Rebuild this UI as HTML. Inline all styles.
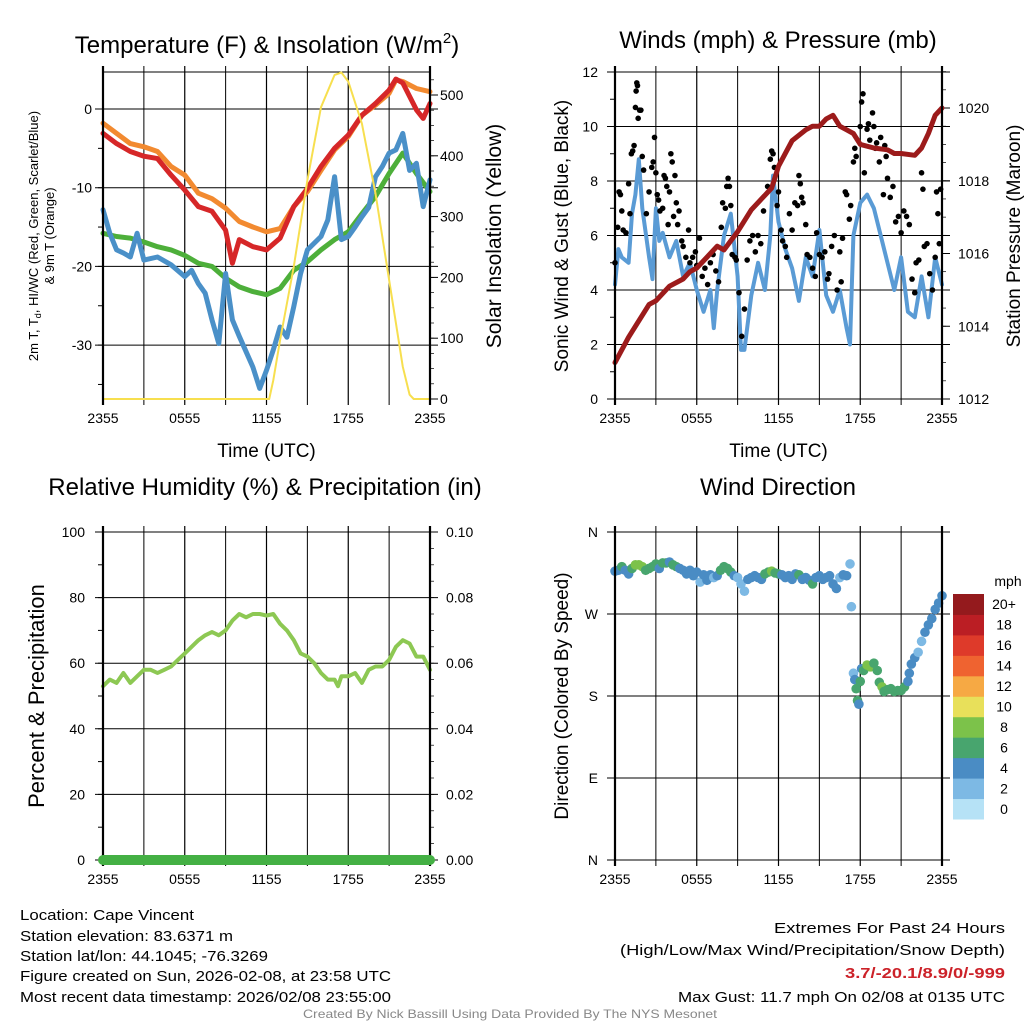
<!DOCTYPE html>
<html><head><meta charset="utf-8"><style>
html,body{margin:0;padding:0;background:#fff;}
svg{display:block;font-family:"Liberation Sans",sans-serif;}
</style></head><body>
<svg id="s" width="1024" height="1024" viewBox="0 0 1024 1024" xmlns="http://www.w3.org/2000/svg">
<rect width="1024" height="1024" fill="#fff"/>
<g id="g1"></g>
<g id="g2"></g>
<g id="g3"></g>
<g id="g4"></g>
<g font-size="15" fill="#000">
<text x="20" y="920" textLength="174" lengthAdjust="spacingAndGlyphs">Location: Cape Vincent</text>
<text x="20" y="941" textLength="213" lengthAdjust="spacingAndGlyphs">Station elevation: 83.6371 m</text>
<text x="20" y="961" textLength="248" lengthAdjust="spacingAndGlyphs">Station lat/lon: 44.1045; -76.3269</text>
<text x="20" y="981" textLength="371" lengthAdjust="spacingAndGlyphs">Figure created on Sun, 2026-02-08, at 23:58 UTC</text>
<text x="20" y="1002" textLength="371" lengthAdjust="spacingAndGlyphs">Most recent data timestamp: 2026/02/08 23:55:00</text>
</g>
<g font-size="15" fill="#000">
<text x="1005" y="933" text-anchor="end" textLength="231" lengthAdjust="spacingAndGlyphs">Extremes For Past 24 Hours</text>
<text x="1005" y="955" text-anchor="end" textLength="385" lengthAdjust="spacingAndGlyphs">(High/Low/Max Wind/Precipitation/Snow Depth)</text>
<text x="1005" y="978" text-anchor="end" textLength="160" lengthAdjust="spacingAndGlyphs" fill="#cc2229" font-weight="bold">3.7/-20.1/8.9/0/-999</text>
<text x="1005" y="1002" text-anchor="end" textLength="327" lengthAdjust="spacingAndGlyphs">Max Gust: 11.7 mph On 02/08 at 0135 UTC</text>
</g>
<text x="510" y="1018" text-anchor="middle" font-size="12" fill="#888" textLength="414" lengthAdjust="spacingAndGlyphs">Created By Nick Bassill Using Data Provided By The NYS Mesonet</text>
</svg>
<script>
// ---------- DATA ----------
const xTickLabels = ["2355","0555","1155","1755","2355"];
const tempTicks = [0,-10,-20,-30];
const solarTicks = [0,100,200,300,400,500];
const windTicks = [0,2,4,6,8,10,12];
const presTicks = [1012,1014,1016,1018,1020];
const rhTicks = [0,20,40,60,80,100];
const precipTicks = ["0.00","0.02","0.04","0.06","0.08","0.10"];
const dirTickLabels = ["N","E","S","W","N"];
const speedBinLabels = ["0","2","4","6","8","10","12","14","16","18","20+"];

const redT = [-3.1,-4.4,-5.4,-6,-6.3,-8.4,-10.3,-12.4,-13,-15.4,-19.6,-16.6,-17.5,-17.9,-16.4,-12.4,-10.1,-7.3,-5,-3.3,-0.8,0.7,2.4,3.8,3.3,-0.1,-1.2,0.7];
const redH = [0,1,2,3,4,5,6,7,8,9,9.5,10,11,12,13,14,15,16,17,18,19,20,21,21.5,22,23,23.5,24];
const orangeT = [-1.8,-3.1,-4.4,-4.8,-5.4,-7.3,-8.4,-10.7,-11.4,-12.6,-14.3,-15,-15.6,-15.2,-12.4,-10.5,-7.8,-5.2,-3.5,-0.8,0.5,2,3.7,3.5,2.6,2.2];
const orangeH = [0,1,2,3,4,5,6,7,8,9,10,11,12,13,14,15,16,17,18,19,20,21,21.5,22,23,24];
const greenT = [-15.8,-16.2,-16.4,-16.9,-17.5,-17.9,-18.6,-19.6,-20,-21.5,-22.6,-23.2,-23.6,-22.8,-20.5,-19.4,-17.9,-16.6,-15.6,-13.3,-11.1,-8.2,-5.6,-8.2,-10.5];
const greenH = [0,1,2,3,4,5,6,7,8,9,10,11,12,13,14,15,16,17,18,19,20,21,22,23,24];
const blueT = [-12.8,-15.8,-17.9,-18.3,-18.8,-15.8,-19.2,-18.8,-19.8,-21.3,-20.5,-22.2,-23.4,-26.8,-29.8,-20.9,-26.8,-28.9,-32.8,-35.5,-33.2,-30.6,-27.7,-29,-25.1,-20.9,-17.9,-16.2,-14.1,-8.6,-16.6,-16.2,-15,-13.7,-12.5,-8.6,-7.3,-5.6,-5.2,-3.1,-7.8,-6.9,-12.4,-9];
const blueH = [0,0.5,1,1.5,2,2.5,3,4,5,6,6.5,7,7.5,8,8.5,9,9.5,10,11,11.5,12,12.5,13,13.5,14,14.5,15,16,16.5,17,17.5,18,18.5,19,19.5,20,20.5,21,21.5,22,22.5,23,23.5,24];
const solarV = [0,0,0,31,97,218,360,480,533,537,522,453,338,196,53,7,0,0];
const solarH = [0,11.9,12.2,12.5,13,14,15,16,17,17.5,18,19,20,21,22,22.5,22.8,24];

const windV = [4.2,5.5,5.2,5.0,6.8,7.5,8.8,7.0,5.2,4.4,7.0,5.8,6.1,5.2,5.8,4.5,5.0,4.0,3.2,4.0,2.6,4.0,6.0,6.8,4.5,1.8,1.8,3.8,5.0,4.0,6.0,8.2,6.5,5.5,4.8,3.6,5.2,4.5,6.2,3.8,3.2,4.0,2.6,2.0,6.0,7.2,7.5,7.0,6.0,5.0,4.0,5.2,3.2,3.0,4.5,3.0,5.2,4.2];
const windH = [0,0.25,0.5,1,1.25,1.5,1.75,2,2.5,2.75,3,3.25,3.5,4,4.5,5,5.5,6,6.5,7,7.25,7.5,8,8.5,9,9.25,9.5,10,10.5,11,11.4,11.6,12,12.5,13,13.5,14,14.5,15,15.5,16,16.5,17,17.25,17.5,18,18.5,19,19.5,20,20.5,21,21.5,22,22.5,23,23.5,24];
const gustH = [0,0.2,0.3,0.4,0.5,0.6,0.8,1.0,1.1,1.2,1.3,1.4,1.5,1.55,1.6,1.65,1.7,1.8,1.9,2.0,2.1,2.3,2.5,2.7,2.8,2.9,3.0,3.1,3.2,3.3,3.5,3.6,3.7,3.8,3.9,4.0,4.1,4.2,4.3,4.4,4.5,4.6,4.7,4.9,5.0,5.2,5.4,5.5,5.7,5.9,6.0,6.2,6.4,6.6,6.8,7.0,7.2,7.4,7.6,7.8,7.9,8.1,8.2,8.3,8.4,8.5,8.6,8.8,8.9,9.1,9.3,9.5,9.7,9.9,10.1,10.3,10.5,10.7,10.9,11.2,11.4,11.5,11.6,11.7,11.9,12.0,12.2,12.3,12.5,12.6,12.8,13.0,13.2,13.4,13.5,13.6,13.7,13.8,14.0,14.1,14.3,14.5,14.7,14.8,15.0,15.2,15.4,15.6,15.7,15.9,16.1,16.3,16.5,16.6,16.7,16.9,17.0,17.2,17.3,17.5,17.6,17.7,18.0,18.1,18.2,18.3,18.5,18.6,18.7,18.9,19.0,19.1,19.2,19.4,19.5,19.7,19.8,19.9,20.0,20.2,20.4,20.6,20.8,21.0,21.2,21.4,21.6,21.8,22.0,22.1,22.3,22.5,22.6,22.7,22.9,23.1,23.3,23.5,23.6,23.7,23.8,23.9];
const gustV = [5.0,6.3,7.6,7.5,6.9,6.2,6.1,7.9,6.8,9.0,9.1,9.3,10.7,11.3,11.6,11.5,10.3,10.6,10.6,8.9,8.4,6.8,7.6,8.5,8.7,9.6,8.3,7.5,7.3,6.9,7.0,8.2,8.1,7.8,6.4,7.6,9.0,8.7,6.7,8.2,7.2,6.4,6.9,5.8,5.6,5.2,6.2,5.0,5.2,5.4,4.9,5.9,4.5,4.8,4.2,5.0,5.3,4.7,4.3,6.3,7.2,7.0,7.8,8.1,7.8,7.1,5.3,5.2,5.1,3.9,2.3,3.3,5.1,5.8,6.0,5.4,6.0,5.7,6.9,7.8,8.8,9.1,9.0,8.5,7.1,7.6,6.2,5.8,5.6,5.2,6.8,6.2,7.2,7.1,8.2,7.9,7.4,7.2,6.4,5.3,5.2,4.8,4.5,6.1,5.3,5.2,5.4,4.4,4.6,5.6,6.0,4.0,5.4,4.3,5.9,7.6,7.5,6.6,7.1,8.7,9.2,8.9,10.0,10.9,11.2,8.3,9.9,10.1,9.5,10.5,10.0,9.2,9.4,8.7,9.6,7.5,9.3,8.9,8.1,7.4,7.8,6.5,6.7,6.1,6.9,6.7,6.4,4.4,3.9,5.0,5.1,8.3,7.7,5.6,5.7,4.6,4.0,5.2,7.6,6.8,5.7,7.7];
const presV = [1013.0,1013.7,1014.0,1014.3,1014.6,1014.7,1015.1,1015.3,1015.5,1015.6,1016.0,1016.2,1016.1,1016.6,1017.2,1017.6,1017.8,1018.4,1019.1,1019.4,1019.5,1019.5,1019.7,1019.8,1019.5,1019.4,1019.3,1019.0,1018.9,1018.85,1018.75,1018.75,1018.7,1018.9,1019.3,1019.8,1020.0];
const presH = [0,1,1.5,2,2.5,3,4,5,5.5,6,7,7.5,8,9,10,11,11.5,12,13,14,14.5,15,15.5,16,16.5,17,17.5,18,19,20,20.5,21,22,22.5,23,23.5,24];

const rhV = [53,55,54,57,54,56,58,58,57,58,59,61,63,65,67,68.5,69.5,68.5,70,73,75,74,75,75,74.5,75,72,70,67,63,62,60,57,55,55,53,56,56,57,54,58,59,59,61,65,67,66,62,62,58];
const rhH = [0,0.5,1,1.5,2,2.5,3,3.5,4,4.5,5,5.5,6,6.5,7,7.5,8,8.5,9,9.5,10,10.5,11,11.5,12,12.5,13,13.5,14,14.5,15,15.5,16,16.5,17,17.25,17.5,18,18.5,19,19.5,20,20.5,21,21.5,22,22.5,23,23.5,24];
const precipV = [0,0];
const precipH = [0,24];

const dirH = [0,.25,.5,.75,1,1.25,1.5,1.75,2,2.25,2.5,2.75,3,3.25,3.5,3.75,4,4.25,4.5,4.75,5,5.25,5.5,5.75,6,6.25,6.5,6.75,7,7.25,7.5,7.75,8,8.25,8.5,8.75,9,9.25,9.5,9.75,10,10.25,10.5,10.75,11,11.25,11.5,11.75,12,12.25,12.5,12.75,13,13.25,13.5,13.75,14,14.25,14.5,14.75,15,15.25,15.5,15.75,16,16.25,16.5,16.75,17,17.25,17.35,17.5,17.6,17.7,17.8,17.9,18,18.1,18.25,18.5,18.75,19,19.25,19.4,19.6,19.75,20,20.25,20.5,20.75,21,21.25,21.5,21.6,21.75,22,22.25,22.5,22.75,23,23.25,23.5,23.75,24];
const dirV = [317,318,322,318,314,320,324,324,322,318,320,322,325,320,326,326,327,324,322,320,318,314,318,312,316,305,313,307,313,310,312,318,322,320,316,312,310,303,295,308,310,312,310,308,314,316,317,315,314,313,310,312,308,314,313,308,310,307,303,310,312,308,310,312,303,298,310,313,312,325,278,205,198,188,175,171,196,210,208,214,212,216,208,195,190,185,187,188,185,186,186,190,196,205,215,222,228,240,250,258,265,275,282,290];
const dirSpd = [4,4,6,5,5,6,8,8,8,6,6,6,6,4,6,6,4,6,6,4,4,4,4,4,4,2,4,4,4,2,4,6,6,6,6,4,2,2,2,4,4,4,4,4,6,6,8,6,6,4,4,4,4,4,6,4,4,4,6,4,4,4,4,4,4,4,2,4,4,2,2,2,4,6,6,4,6,4,6,8,8,6,6,6,8,6,6,6,6,6,6,6,4,4,4,4,2,2,4,4,4,4,4,4];
const binColors = ["#b6e2f6","#7db9e4","#4a8cc4","#48a56e","#7cc24a","#e8e05a","#f6a944","#ef6330","#de3a2a","#bb1e24","#941a1d"];

// ---------- HELPERS ----------
const NS="http://www.w3.org/2000/svg";
function mk(parent,tag,attrs,txt){const e=document.createElementNS(NS,tag);for(const k in attrs)e.setAttribute(k,attrs[k]);if(txt!==undefined)e.textContent=txt;parent.appendChild(e);return e;}
function xs(x0,x1){return h=>x0+h/24*(x1-x0);}
function lin(d0,d1,r0,r1){return v=>r0+(v-d0)/(d1-d0)*(r1-r0);}
function pathD(H,V,fx,fy){return H.map((h,i)=>(i?"L":"M")+fx(h).toFixed(1)+","+fy(V[i]).toFixed(1)).join("");}

function frame(g,x0,x1,y0,y1,xlab){
  const fx=xs(x0,x1);
  for(let h=0;h<=24;h+=3){
    const l=mk(g,'line',{x1:fx(h),x2:fx(h),y1:y0-6,y2:y1+6,stroke:'#000','stroke-width':(h%6==0)?1.2:1});
    
    
  }
  xTickLabels.forEach((t,i)=>{
    const e=mk(g,'text',{x:fx(i*6),y:y1+24,'text-anchor':'middle','font-size':14},t);
    
    
  });
  if(xlab){const e=mk(g,'text',{x:(x0+x1)/2,y:y1+58,'text-anchor':'middle','font-size':19},'Time (UTC)');
    
    }
  return fx;
}
function hgrid(g,x0,x1,y){
  const l=mk(g,'line',{x1:x0-8,x2:x1+8,y1:y,y2:y,stroke:'#000','stroke-width':1});
  
  
}
function label(g,x,y,t,anchor,size,name){
  const e=mk(g,'text',{x:x,y:y+5,'text-anchor':anchor,'font-size':size||14},t);
  
  
  return e;
}
function vtitle(g,x,y,t,size,name){
  const e=mk(g,'text',{x:0,y:0,transform:`translate(${x},${y}) rotate(-90)`,'text-anchor':'middle','font-size':size},t);
  
  
  return e;
}
function series(g,H,V,fx,fy,color,w,name){
  const p=mk(g,'path',{d:pathD(H,V,fx,fy),fill:'none',stroke:color,'stroke-width':w,'stroke-linejoin':'round','stroke-linecap':'round'});
  
  
  return p;
}
function sides(g,x0,x1,y0,y1){
  mk(g,'line',{x1:x0,x2:x0,y1:y0-6,y2:y1+6,stroke:'#000','stroke-width':2.2});
  mk(g,'line',{x1:x1,x2:x1,y1:y0-6,y2:y1+6,stroke:'#000','stroke-width':2.2});
}

// ---------- PANEL 1 ----------
(function(){
  const g=document.getElementById('g1');const x0=103,x1=430,y0=72,y1=399;
  const t=mk(g,'text',{x:267,y:53,'text-anchor':'middle','font-size':24});
  
  
  t.innerHTML='Temperature (F) &amp; Insolation (W/m<tspan dy="-10" font-size="15">2</tspan><tspan dy="10">)</tspan>';
  const fx=frame(g,x0,x1,y0,y1,true);
  const fy=lin(0,-10,109,187.7);
  const fs=lin(0,500,399,95);
  mk(g,'line',{x1:x0,x2:x1,y1:y0,y2:y0,stroke:'#000','stroke-width':1});
  tempTicks.forEach(v=>{hgrid(g,x0,x1,fy(v));label(g,92,fy(v),String(v),'end',14,'y-tick-label');});
  for(let v=-35;v<=0;v+=5){mk(g,'line',{x1:x0-5,x2:x0,y1:fy(v),y2:fy(v),stroke:'#000'});}
  solarTicks.forEach(v=>{mk(g,'line',{x1:x1,x2:x1+8,y1:fs(v),y2:fs(v),stroke:'#000'});label(g,440,fs(v),String(v),'start',14,'right-tick-label');});
  for(let v=0;v<=525;v+=25){mk(g,'line',{x1:x1,x2:x1+4,y1:fs(v),y2:fs(v),stroke:'#000','stroke-width':0.7});}
  series(g,greenH,greenT,fx,fy,'#4daf3a',5,'dewpoint-line');
  series(g,blueH,blueT,fx,fy,'#4a90c8',5,'windchill-line');
  series(g,orangeH,orangeT,fx,fy,'#f28a30',5,'9m-temp-line');
  series(g,redH,redT,fx,fy,'#d62728',5,'2m-temp-line');
  series(g,solarH,solarV,fx,fs,'#f7df4f',2,'solar-line');
  sides(g,x0,x1,y0,y1);
  const v1=mk(g,'text',{x:0,y:0,transform:'translate(38,236) rotate(-90)','text-anchor':'middle','font-size':13});
  
  
  v1.innerHTML='2m T, T<tspan dy="3" font-size="9">d</tspan><tspan dy="-3">, HI/WC (Red, Green, Scarlet/Blue)</tspan>';
  vtitle(g,54,236,'& 9m T (Orange)',13,'y-axis-title-line2');
  vtitle(g,501,236,'Solar Insolation (Yellow)',21,'right-axis-title');
})();

// ---------- PANEL 2 ----------
(function(){
  const g=document.getElementById('g2');const x0=615,x1=942,y0=72,y1=399;
  label(g,778,43,'Winds (mph) & Pressure (mb)','middle',24,'winds-title');
  const fx=frame(g,x0,x1,y0,y1,true);
  const fy=lin(0,12,399,72);
  const fp=lin(1012,1020,399,108);
  windTicks.forEach(v=>{hgrid(g,x0,x1,fy(v));label(g,598,fy(v),String(v),'end',14,'y-tick-label');});
  for(let v=0;v<=12;v+=1){mk(g,'line',{x1:x0-5,x2:x0,y1:fy(v),y2:fy(v),stroke:'#000'});}
  presTicks.forEach(v=>{mk(g,'line',{x1:x1,x2:x1+8,y1:fp(v),y2:fp(v),stroke:'#000'});label(g,958,fp(v),String(v),'start',14,'right-tick-label');});
  for(let v=1012;v<=1021;v+=0.5){mk(g,'line',{x1:x1,x2:x1+4,y1:fp(v),y2:fp(v),stroke:'#000','stroke-width':0.7});}
  series(g,windH,windV,fx,fy,'#5a9bd5',4,'sonic-wind-line');
  gustH.forEach((h,i)=>{const c=mk(g,'circle',{cx:fx(h),cy:fy(gustV[i]),r:2.8,fill:'#000'});
    
    });
  series(g,presH,presV,fx,fp,'#9c1b1b',5,'pressure-line');
  sides(g,x0,x1,y0,y1);
  vtitle(g,568,236,'Sonic Wind & Gust (Blue, Black)',19,'y-axis-title');
  vtitle(g,1020,236,'Station Pressure (Maroon)',19,'right-axis-title');
})();

// ---------- PANEL 3 ----------
(function(){
  const g=document.getElementById('g3');const x0=103,x1=430,y0=532,y1=860;
  label(g,265,490,'Relative Humidity (%) & Precipitation (in)','middle',24,'humidity-title');
  const fx=frame(g,x0,x1,y0,y1,false);
  const fy=lin(0,100,860,532);
  rhTicks.forEach((v,i)=>{hgrid(g,x0,x1,fy(v));label(g,85,fy(v),String(v),'end',14,'y-tick-label');
    label(g,446,fy(v),precipTicks[i],'start',14,'right-tick-label');});
  for(let v=0;v<=100;v+=10){mk(g,'line',{x1:x0-5,x2:x0,y1:fy(v),y2:fy(v),stroke:'#000'});}
  for(let v=0;v<=100;v+=5){mk(g,'line',{x1:x1,x2:x1+4,y1:fy(v),y2:fy(v),stroke:'#000','stroke-width':0.7});}
  series(g,rhH,rhV,fx,fy,'#8dc853',4,'humidity-line');
  sides(g,x0,x1,y0,y1);
  series(g,precipH,precipV.map(v=>v*1000),fx,fy,'#44b044',10,'precip-line');
  vtitle(g,44,696,'Percent & Precipitation',22,'y-axis-title');
})();

// ---------- PANEL 4 ----------
(function(){
  const g=document.getElementById('g4');const x0=615,x1=942,y0=532,y1=860;
  label(g,778,490,'Wind Direction','middle',24,'direction-title');
  const fx=frame(g,x0,x1,y0,y1,false);
  const fy=lin(0,360,860,532);
  dirTickLabels.forEach((t,i)=>{const v=i*90;hgrid(g,x0,x1,fy(v));label(g,598,fy(v),t,'end',14,'y-tick-label');});
  dirH.forEach((h,i)=>{const b=Math.min(10,Math.floor(dirSpd[i]/2));
    const c=mk(g,'circle',{cx:fx(h),cy:fy(dirV[i]),r:4.8,fill:binColors[b]});
    
    });
  sides(g,x0,x1,y0,y1);
  vtitle(g,568,696,'Direction (Colored By Speed)',19,'y-axis-title');
  const cb=mk(g,'g',{});
  
  
  const by0=594,by1=819,bh=(by1-by0)/11;
  speedBinLabels.forEach((t,i)=>{const y=by1-(i+1)*bh;
    const r=mk(cb,'rect',{x:953,y:y,width:31,height:bh+0.5,fill:binColors[i]});
    
    
    label(cb,1004,y+bh/2,t,'middle',14,'colorbar-label');});
  label(cb,1008,581,'mph','middle',14,'colorbar-unit');
})();
</script>
</body></html>
